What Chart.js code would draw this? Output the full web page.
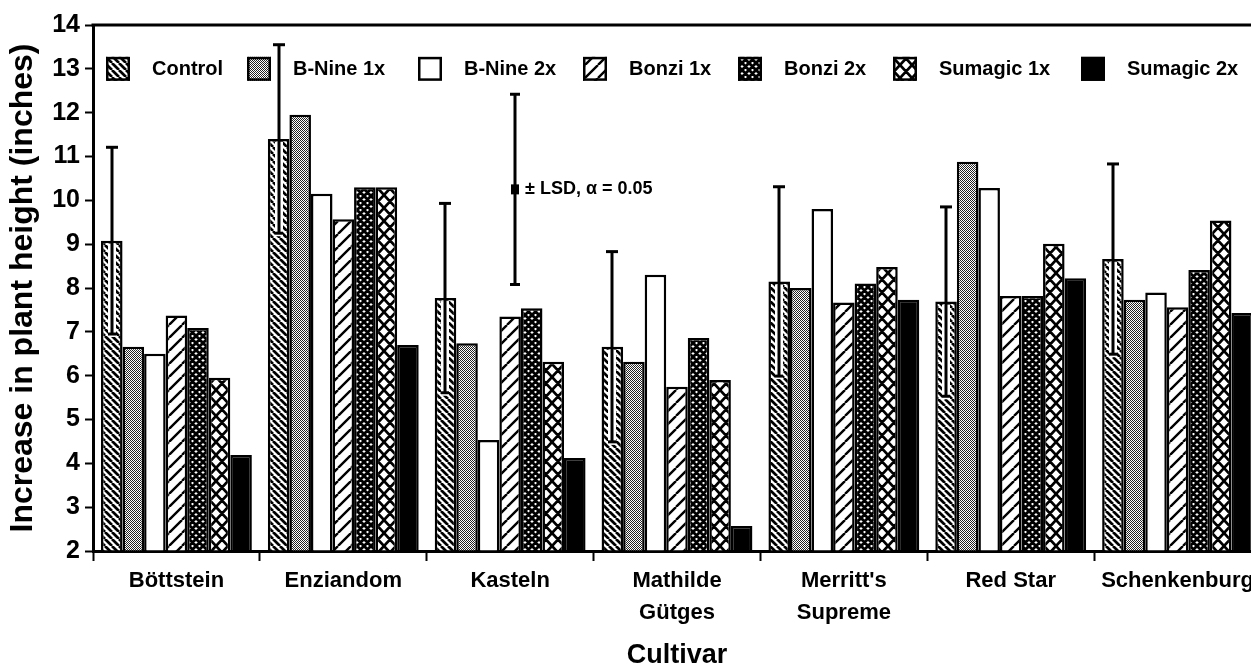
<!DOCTYPE html>
<html><head><meta charset="utf-8">
<script src="https://cdn.jsdelivr.net/npm/chart.js@4.4.1/dist/chart.umd.min.js"></script>
<style>
html,body{margin:0;padding:0;background:#fff;overflow:hidden;}
#wrap{position:relative;width:1265px;height:672px;}
</style></head><body>
<div id="wrap"><canvas id="c"></canvas></div>
<script>
// ---- data ----
const categories = ['Böttstein', 'Enziandom', 'Kasteln', ['Mathilde', 'Gütges'], ["Merritt's", 'Supreme'], 'Red Star', 'Schenkenburg'];
const seriesNames = ['Control', 'B-Nine 1x', 'B-Nine 2x', 'Bonzi 1x', 'Bonzi 2x', 'Sumagic 1x', 'Sumagic 2x'];
const control   = [9.08, 11.40, 7.77, 6.66, 8.15, 7.69, 8.66];
const bNine1x   = [6.66, 11.95, 6.74, 6.32, 8.00, 10.88, 7.73];
const bNine2x   = [6.50, 10.15, 4.53, 8.30, 9.80, 10.28, 7.90];
const bonzi1x   = [7.37, 9.57, 7.35, 5.75, 7.67, 7.82, 7.56];
const bonzi2x   = [7.09, 10.30, 7.54, 6.86, 8.10, 7.82, 8.41];
const sumagic1x = [5.95, 10.30, 6.32, 5.90, 8.48, 9.01, 9.54];
const sumagic2x = [4.19, 6.70, 4.12, 2.57, 7.73, 8.22, 7.43];
const controlLSD = [2.13, 2.15, 2.16, 2.17, 2.16, 2.16, 2.17];
const lsdKeyCategory = 2;      // index of Kasteln
const lsdKeyCenter = 10.25;
const lsdKeyHalf = 2.17;
const lsdKeyText = '± LSD, α = 0.05';
const yMin = 2, yMax = 14, yStep = 1;

// ---- patterns ----
const FONT = "'Liberation Sans', Arial, Helvetica, sans-serif";
const mainCtx = document.getElementById('c').getContext('2d');
function makePattern(w, h, draw) {
  const c = document.createElement('canvas');
  c.width = w; c.height = h;
  const g = c.getContext('2d');
  g.fillStyle = '#fff'; g.fillRect(0, 0, w, h);
  g.fillStyle = '#000'; g.strokeStyle = '#000';
  draw(g, w, h);
  return mainCtx.createPattern(c, 'repeat');
}
function lines(g, w, h, lw, back, fwd) {
  g.lineWidth = lw; g.lineCap = 'butt';
  g.beginPath();
  for (const k of [-w, 0, w]) {
    if (back) { g.moveTo(k, 0); g.lineTo(k + w, h); }
    if (fwd) { g.moveTo(k, h); g.lineTo(k + w, 0); }
  }
  g.stroke();
}
const patControl = makePattern(7, 7, (g, w, h) => lines(g, w, h, 2.7, true, false));
const patStipple = makePattern(2, 2, (g) => { g.fillStyle = '#222'; g.fillRect(0, 0, 1, 1); g.fillRect(1, 1, 1, 1); });
const patWhite = '#ffffff';
const patFwd = makePattern(13, 13, (g, w, h) => lines(g, w, h, 2.4, false, true));
const patDense = makePattern(7, 7, (g, w, h) => lines(g, w, h, 2.9, true, true));
const patBigX = makePattern(12, 13, (g, w, h) => lines(g, w, h, 2.7, true, true));
const patBlack = '#000000';
const fills = [patControl, patStipple, patWhite, patFwd, patDense, patBigX, patBlack];
const values = [control, bNine1x, bNine2x, bonzi1x, bonzi2x, sumagic1x, sumagic2x];

const datasets = seriesNames.map((name, i) => ({
  label: name,
  data: values[i],
  backgroundColor: fills[i],
  borderColor: '#000',
  borderWidth: 2.5,
  borderSkipped: 'start',
  base: yMin,
  categoryPercentage: 0.904,
  barPercentage: 1.0
}));

// ---- plugins ----
const decorPlugin = {
  id: 'decor',
  afterDraw(chart) {
    const ctx = chart.ctx;
    const ca = chart.chartArea;
    const xs = chart.scales.x, ys = chart.scales.y;
    ctx.save();
    // top frame line
    ctx.strokeStyle = '#000'; ctx.lineWidth = 3;
    ctx.beginPath(); ctx.moveTo(ca.left - 1.5, ca.top); ctx.lineTo(ca.right, ca.top); ctx.stroke();

    // error bars on Control
    const meta = chart.getDatasetMeta(0);
    meta.data.forEach((bar, i) => {
      const x = Math.round(bar.x);
      const yTop = ys.getPixelForValue(control[i] + controlLSD[i]);
      const yBot = ys.getPixelForValue(control[i] - controlLSD[i]);
      const yBar = ys.getPixelForValue(control[i]);
      ctx.strokeStyle = '#fff'; ctx.lineWidth = 8;
      ctx.beginPath(); ctx.moveTo(x, yBot + 3); ctx.lineTo(x, yBar + 3); ctx.stroke();
      ctx.strokeStyle = '#000'; ctx.lineWidth = 3;
      ctx.beginPath(); ctx.moveTo(x, yTop); ctx.lineTo(x, yBot); ctx.stroke();
      ctx.beginPath(); ctx.moveTo(x - 6, yTop); ctx.lineTo(x + 6, yTop); ctx.stroke();
      ctx.beginPath(); ctx.moveTo(x - 4, yBot); ctx.lineTo(x + 4, yBot); ctx.stroke();
    });

    // LSD key
    const kx = Math.round(xs.getPixelForValue(lsdKeyCategory) + 5);
    const kc = ys.getPixelForValue(lsdKeyCenter);
    const kt = ys.getPixelForValue(lsdKeyCenter + lsdKeyHalf);
    const kb = ys.getPixelForValue(lsdKeyCenter - lsdKeyHalf);
    ctx.strokeStyle = '#000'; ctx.lineWidth = 3;
    ctx.beginPath(); ctx.moveTo(kx, kt); ctx.lineTo(kx, kb); ctx.stroke();
    ctx.beginPath(); ctx.moveTo(kx - 5, kt); ctx.lineTo(kx + 5, kt); ctx.stroke();
    ctx.beginPath(); ctx.moveTo(kx - 5, kb); ctx.lineTo(kx + 5, kb); ctx.stroke();
    ctx.fillStyle = '#000';
    ctx.fillRect(kx - 4, kc - 5, 8, 10);
    ctx.font = 'bold 18px ' + FONT;
    ctx.textBaseline = 'middle'; ctx.textAlign = 'left';
    ctx.fillText(lsdKeyText, kx + 10, kc);

    // legend inside plot
    const legendX = [106, 247, 418, 583, 738, 893, 1081];
    const ly = ys.getPixelForValue(13);
    ctx.font = 'bold 20px ' + FONT;
    chart.data.datasets.forEach((ds, i) => {
      const bx = legendX[i];
      ctx.fillStyle = ds.backgroundColor;
      ctx.fillRect(bx, ly - 12, 24, 24);
      ctx.strokeStyle = '#000'; ctx.lineWidth = 2.5;
      ctx.strokeRect(bx + 1.25, ly - 10.75, 21.5, 21.5);
      ctx.fillStyle = '#000';
      ctx.textBaseline = 'middle';
      ctx.fillText(ds.label, bx + 46, ly + 1);
    });
    ctx.restore();
  }
};

new Chart(document.getElementById('c'), {
  type: 'bar',
  data: { labels: categories, datasets },
  options: {
    responsive: true,
    maintainAspectRatio: false,
    animation: false,
    devicePixelRatio: 1,
    layout: { padding: { top: 25, right: 4, left: 0, bottom: 0 } },
    plugins: { legend: { display: false }, tooltip: { enabled: false } },
    scales: {
      x: {
        type: 'category',
        offset: true,
        grid: { offset: true, drawOnChartArea: false, tickLength: 10, color: '#000', tickWidth: 2 },
        border: { display: true, color: '#000', width: 3 },
        ticks: { color: '#000', font: { family: FONT, size: 22, weight: 'bold', lineHeight: 1.45 }, padding: 4, maxRotation: 0, autoSkip: false },
        title: { display: true, text: 'Cultivar', color: '#000', font: { family: FONT, size: 27, weight: 'bold' }, padding: { top: 0, bottom: 0 } },
        afterFit: (s) => { s.height = 121; }
      },
      y: {
        min: yMin, max: yMax,
        grid: { drawOnChartArea: false, tickLength: 8, color: '#000', tickWidth: 2 },
        border: { display: true, color: '#000', width: 3 },
        ticks: { stepSize: yStep, color: '#000', font: { family: FONT, size: 25, weight: 'bold' }, padding: 5 },
        title: { display: true, text: 'Increase in plant height (inches)', color: '#000', font: { family: FONT, size: 32, weight: 'bold' }, padding: { top: 4, bottom: 0 } },
        afterFit: (s) => { s.width = 93; }
      }
    }
  },
  plugins: [decorPlugin]
});
</script>
</body></html>
